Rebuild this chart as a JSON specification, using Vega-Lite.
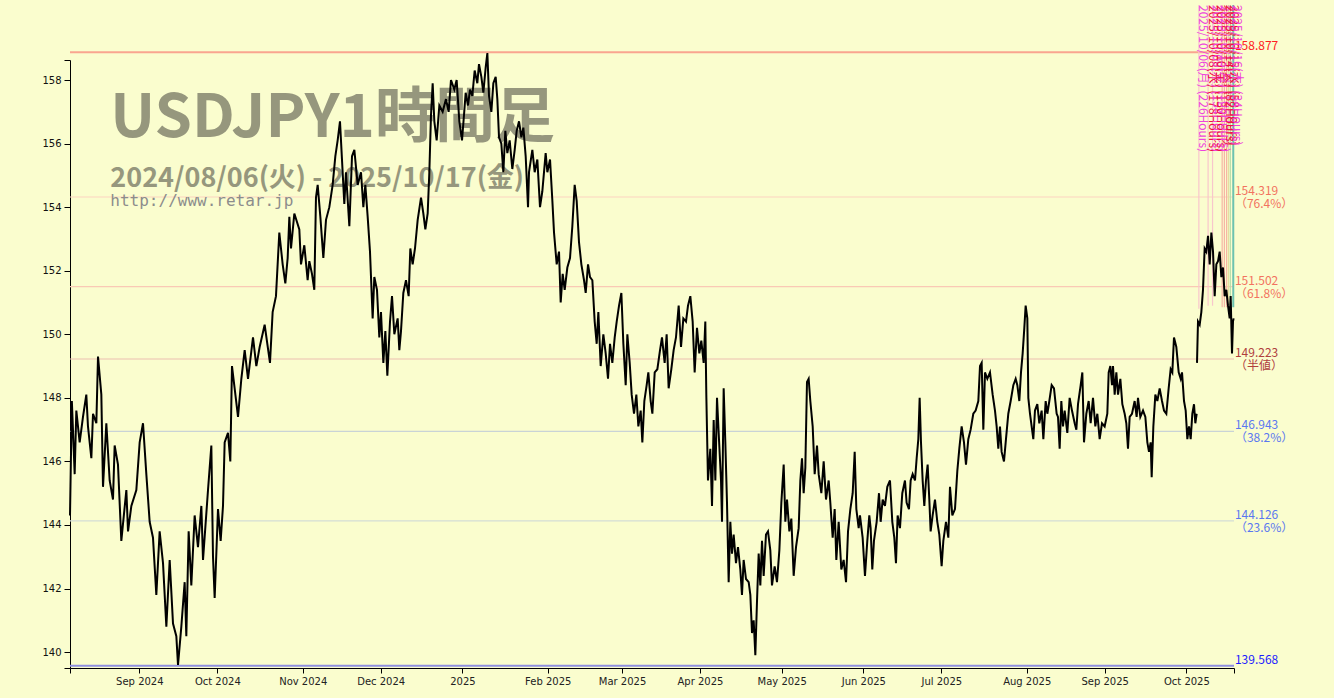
{
"$schema":"https://vega.github.io/schema/vega-lite/v6.json",
"width":1164,"height":608,"autosize":"none",
"padding":{"left":70,"top":60,"right":100,"bottom":30},
"background":"#FAFDCE",
"config":{"view":{"stroke":null},
"axis":{"labelFont":"DejaVu Sans","labelFontSize":10,"labelColor":"#111","domainColor":"#000","tickColor":"#000","grid":false,"title":null,"labelOverlap":false,"labelFlush":false}},
"datasets":{
"price":[
{"t":0,"p":144.3,"s":1},{"t":0.5,"p":147.9,"s":1},{"t":1.26,"p":145.6,"s":1},{"t":1.71,"p":147.6,"s":1},{"t":2.61,"p":146.6,"s":1},{"t":3.51,"p":147.4,"s":1},{"t":4.41,"p":148.1,"s":1},{"t":4.86,"p":147.1,"s":1},{"t":5.77,"p":146.1,"s":1},{"t":6.22,"p":147.5,"s":1},{"t":7.12,"p":147.2,"s":1},{"t":7.57,"p":149.3,"s":1},{"t":8.47,"p":148.1,"s":1},{"t":8.92,"p":145.2,"s":1},{"t":9.82,"p":147.2,"s":1},{"t":10.72,"p":145.4,"s":1},{"t":11.62,"p":144.8,"s":1},{"t":12.07,"p":146.5,"s":1},{"t":12.97,"p":145.9,"s":1},{"t":13.87,"p":143.5,"s":1},{"t":15.23,"p":145.1,"s":1},{"t":15.68,"p":143.8,"s":1},{"t":16.58,"p":144.6,"s":1},{"t":17.93,"p":145.1,"s":1},{"t":18.83,"p":146.6,"s":1},{"t":19.73,"p":147.2,"s":1},{"t":20.63,"p":145.6,"s":1},{"t":21.53,"p":144.1,"s":1},{"t":22.43,"p":143.6,"s":1},{"t":23.33,"p":141.8,"s":1},{"t":24.23,"p":143.8,"s":1},{"t":25.14,"p":142.8,"s":1},{"t":26.04,"p":140.8,"s":1},{"t":26.94,"p":142.9,"s":1},{"t":27.84,"p":140.9,"s":1},{"t":28.74,"p":140.5,"s":1},{"t":29.19,"p":139.6,"s":1},{"t":30.09,"p":140.8,"s":1},{"t":30.99,"p":142.2,"s":1},{"t":31.44,"p":140.5,"s":1},{"t":32.07,"p":143.8,"s":1},{"t":32.79,"p":142.1,"s":1},{"t":33.69,"p":144.3,"s":1},{"t":34.59,"p":143.3,"s":1},{"t":35.5,"p":144.6,"s":1},{"t":35.95,"p":142.9,"s":1},{"t":37.3,"p":145.1,"s":1},{"t":38.2,"p":146.5,"s":1},{"t":38.65,"p":143.0,"s":1},{"t":39.1,"p":141.7,"s":1},{"t":40.0,"p":144.5,"s":1},{"t":40.72,"p":143.5,"s":1},{"t":41.35,"p":144.6,"s":1},{"t":41.8,"p":146.6,"s":1},{"t":42.7,"p":146.9,"s":1},{"t":43.33,"p":146.0,"s":1},{"t":43.78,"p":149.0,"s":1},{"t":44.5,"p":148.3,"s":1},{"t":45.41,"p":147.4,"s":1},{"t":46.31,"p":148.6,"s":1},{"t":47.21,"p":149.5,"s":1},{"t":48.11,"p":148.6,"s":1},{"t":49.46,"p":149.9,"s":1},{"t":50.36,"p":149.0,"s":1},{"t":51.26,"p":149.6,"s":1},{"t":52.61,"p":150.3,"s":1},
{"t":54.05,"p":149.1,"s":1},{"t":54.77,"p":150.7,"s":1},{"t":55.67,"p":151.2,"s":1},{"t":56.57,"p":153.2,"s":1},{"t":57.48,"p":152.2,"s":1},{"t":58.2,"p":151.6,"s":1},{"t":58.83,"p":152.4,"s":1},{"t":59.28,"p":153.7,"s":1},{"t":59.73,"p":152.7,"s":1},{"t":60.63,"p":153.8,"s":1},{"t":61.98,"p":153.3,"s":1},{"t":62.43,"p":152.2,"s":1},{"t":63.33,"p":152.8,"s":1},{"t":64.23,"p":151.7,"s":1},{"t":64.68,"p":152.3,"s":1},{"t":65.4,"p":151.9,"s":1},{"t":66.03,"p":151.4,"s":1},{"t":66.48,"p":154.3,"s":1},{"t":66.94,"p":154.7,"s":1},{"t":67.66,"p":153.7,"s":1},{"t":68.47,"p":152.4,"s":1},{"t":69.19,"p":153.6,"s":1},{"t":70.09,"p":154.0,"s":1},{"t":70.99,"p":154.7,"s":1},{"t":71.71,"p":155.6,"s":1},{"t":72.34,"p":156.1,"s":1},{"t":72.97,"p":156.7,"s":1},{"t":73.51,"p":155.5,"s":1},{"t":74.14,"p":154.1,"s":1},{"t":74.59,"p":155.1,"s":1},{"t":75.5,"p":153.4,"s":1},{"t":76.22,"p":155.6,"s":1},{"t":76.85,"p":155.8,"s":1},{"t":77.75,"p":154.7,"s":1},{"t":78.65,"p":155.1,"s":1},{"t":79.28,"p":154.0,"s":1},{"t":79.82,"p":154.7,"s":1},{"t":80.45,"p":153.7,"s":1},{"t":81.08,"p":152.6,"s":1},{"t":81.8,"p":150.5,"s":1},{"t":82.25,"p":151.8,"s":1},{"t":82.97,"p":151.4,"s":1},{"t":83.6,"p":149.9,"s":1},{"t":84.05,"p":150.7,"s":1},{"t":84.69,"p":149.1,"s":1},{"t":85.23,"p":150.1,"s":1},{"t":85.77,"p":148.7,"s":1},{"t":86.49,"p":150.4,"s":1},{"t":87.03,"p":151.2,"s":1},{"t":87.66,"p":150.0,"s":1},{"t":88.56,"p":150.5,"s":1},{"t":89.01,"p":149.5,"s":1},{"t":89.46,"p":150.1,"s":1},{"t":90.09,"p":151.3,"s":1},{"t":90.81,"p":151.7,"s":1},{"t":91.53,"p":151.2,"s":1},{"t":91.98,"p":152.7,"s":1},{"t":92.61,"p":152.2,"s":1},{"t":93.24,"p":152.7,"s":1},{"t":93.97,"p":153.6,"s":1},{"t":94.87,"p":154.3,"s":1},{"t":95.5,"p":153.8,"s":1},{"t":96.04,"p":153.3,"s":1},{"t":96.67,"p":153.8,"s":1},{"t":97.12,"p":155.1,"s":1},{"t":97.57,"p":156.9,"s":1},{"t":98.02,"p":157.9,"s":1},{"t":98.47,"p":156.7,"s":1},{"t":99.1,"p":156.1,"s":1},{"t":99.82,"p":157.2,"s":1},{"t":100.72,"p":157.0,"s":1},{"t":101.62,"p":157.4,"s":1},{"t":102.34,"p":157.0,"s":1},{"t":102.97,"p":158.0,"s":1},{"t":103.87,"p":157.7,"s":1},{"t":104.5,"p":158.0,"s":1},{"t":105.23,"p":156.7,"s":1},{"t":105.95,"p":156.1,"s":1},
{"t":106.49,"p":156.9,"s":1},{"t":106.94,"p":157.6,"s":1},{"t":107.57,"p":157.2,"s":1},{"t":108.11,"p":157.7,"s":1},{"t":108.74,"p":157.5,"s":1},{"t":109.37,"p":158.3,"s":1},{"t":110.09,"p":157.9,"s":1},{"t":110.54,"p":158.5,"s":1},{"t":111.18,"p":158.1,"s":1},{"t":111.72,"p":157.6,"s":1},{"t":112.35,"p":158.4,"s":1},{"t":112.8,"p":158.85,"s":1},{"t":113.25,"p":157.5,"s":1},{"t":113.88,"p":157.0,"s":1},{"t":114.42,"p":157.9,"s":1},{"t":115.05,"p":158.1,"s":1},{"t":115.5,"p":157.4,"s":1},{"t":115.95,"p":156.2,"s":1},{"t":116.58,"p":156.0,"s":1},{"t":117.12,"p":155.1,"s":1},{"t":117.66,"p":156.4,"s":1},{"t":118.2,"p":155.7,"s":1},{"t":118.83,"p":156.1,"s":1},{"t":119.55,"p":155.2,"s":1},{"t":120.19,"p":155.8,"s":1},{"t":120.73,"p":156.4,"s":1},{"t":121.36,"p":156.7,"s":1},{"t":121.99,"p":156.2,"s":1},{"t":122.53,"p":156.5,"s":1},{"t":123.16,"p":155.6,"s":1},{"t":123.79,"p":154.0,"s":1},{"t":124.06,"p":155.1,"s":1},{"t":124.96,"p":155.8,"s":1},{"t":125.59,"p":155.1,"s":1},{"t":126.31,"p":155.5,"s":1},{"t":127.03,"p":154.0,"s":1},{"t":127.66,"p":154.5,"s":1},{"t":128.56,"p":155.7,"s":1},{"t":129.02,"p":155.1,"s":1},{"t":129.74,"p":155.5,"s":1},{"t":130.37,"p":154.2,"s":1},{"t":130.82,"p":153.2,"s":1},{"t":131.54,"p":152.2,"s":1},{"t":132.17,"p":152.6,"s":1},{"t":132.62,"p":151.0,"s":1},{"t":133.16,"p":151.9,"s":1},{"t":133.7,"p":151.4,"s":1},{"t":134.42,"p":152.1,"s":1},{"t":135.14,"p":152.4,"s":1},{"t":135.77,"p":153.4,"s":1},{"t":136.4,"p":154.7,"s":1},{"t":136.94,"p":154.2,"s":1},{"t":137.57,"p":152.9,"s":1},{"t":138.21,"p":152.2,"s":1},{"t":138.93,"p":151.7,"s":1},{"t":139.38,"p":151.3,"s":1},{"t":140.01,"p":152.2,"s":1},{"t":140.55,"p":151.8,"s":1},{"t":141.18,"p":151.7,"s":1},{"t":141.81,"p":150.4,"s":1},{"t":142.35,"p":149.7,"s":1},{"t":142.8,"p":150.7,"s":1},{"t":143.43,"p":149.0,"s":1},{"t":144.15,"p":150.0,"s":1},{"t":144.78,"p":149.4,"s":1},{"t":145.41,"p":148.6,"s":1},{"t":145.95,"p":149.7,"s":1},{"t":146.58,"p":149.1,"s":1},{"t":147.22,"p":149.9,"s":1},{"t":147.76,"p":150.4,"s":1},{"t":148.39,"p":150.9,"s":1},{"t":149.02,"p":151.3,"s":1},{"t":149.56,"p":149.7,"s":1},{"t":150.19,"p":148.4,"s":1},{"t":150.64,"p":150.0,"s":1},{"t":151.27,"p":149.1,"s":1},{"t":151.81,"p":148.1,"s":1},{"t":152.44,"p":147.5,"s":1},{"t":153.07,"p":148.1,"s":1},{"t":153.61,"p":147.1,"s":1},{"t":154.24,"p":147.6,"s":1},{"t":154.69,"p":146.6,"s":1},{"t":155.23,"p":147.9,"s":1},{"t":155.86,"p":148.4,"s":1},{"t":156.31,"p":148.8,"s":1},{"t":156.94,"p":147.9,"s":1},{"t":157.4,"p":147.5,"s":1},{"t":158.03,"p":148.8,"s":1},{"t":158.75,"p":148.9,"s":1},{"t":159.47,"p":149.5,"s":1},
{"t":160.0,"p":149.9,"s":1},{"t":160.72,"p":149.1,"s":1},{"t":161.26,"p":150.0,"s":1},{"t":161.8,"p":148.3,"s":1},{"t":162.52,"p":148.9,"s":1},{"t":163.15,"p":149.5,"s":1},{"t":163.78,"p":149.9,"s":1},{"t":164.51,"p":150.9,"s":1},{"t":165.14,"p":149.6,"s":1},{"t":165.77,"p":150.5,"s":1},{"t":166.49,"p":150.4,"s":1},{"t":167.03,"p":150.9,"s":1},{"t":167.66,"p":151.2,"s":1},{"t":168.29,"p":150.4,"s":1},{"t":168.83,"p":148.8,"s":1},{"t":169.46,"p":150.2,"s":1},{"t":170.09,"p":149.4,"s":1},{"t":170.63,"p":149.8,"s":1},{"t":171.26,"p":149.1,"s":1},{"t":171.71,"p":150.4,"s":1},{"t":171.98,"p":148.1,"s":1},{"t":172.43,"p":145.4,"s":1},{"t":173.06,"p":146.4,"s":1},{"t":173.52,"p":144.6,"s":1},{"t":173.97,"p":147.3,"s":1},{"t":174.42,"p":145.4,"s":1},{"t":174.87,"p":148.0,"s":1},{"t":175.32,"p":146.9,"s":1},{"t":175.95,"p":145.4,"s":1},{"t":176.22,"p":144.1,"s":1},{"t":176.67,"p":148.3,"s":1},{"t":177.12,"p":146.6,"s":1},{"t":177.57,"p":144.7,"s":1},{"t":178.02,"p":142.2,"s":1},{"t":178.47,"p":144.1,"s":1},{"t":178.92,"p":143.1,"s":1},{"t":179.37,"p":143.7,"s":1},{"t":180.0,"p":142.8,"s":1},{"t":180.54,"p":143.3,"s":1},{"t":181.17,"p":142.6,"s":1},{"t":181.62,"p":141.8,"s":1},{"t":182.07,"p":142.9,"s":1},{"t":182.71,"p":142.3,"s":1},{"t":183.43,"p":142.2,"s":1},{"t":183.88,"p":141.8,"s":1},{"t":184.33,"p":140.6,"s":1},{"t":184.78,"p":141.0,"s":1},{"t":185.23,"p":139.9,"s":1},{"t":185.68,"p":141.6,"s":1},{"t":186.13,"p":143.1,"s":1},{"t":186.58,"p":142.1,"s":1},{"t":187.03,"p":143.5,"s":1},{"t":187.48,"p":142.4,"s":1},{"t":188.11,"p":143.7,"s":1},{"t":188.65,"p":143.8,"s":1},{"t":189.28,"p":143.2,"s":1},{"t":189.73,"p":142.1,"s":1},{"t":190.45,"p":142.7,"s":1},{"t":191.08,"p":142.2,"s":1},{"t":191.72,"p":143.2,"s":1},{"t":192.26,"p":144.7,"s":1},{"t":192.89,"p":145.9,"s":1},{"t":193.34,"p":144.1,"s":1},{"t":193.79,"p":144.8,"s":1},{"t":194.42,"p":143.8,"s":1},{"t":194.96,"p":144.2,"s":1},{"t":195.59,"p":142.4,"s":1},{"t":196.22,"p":143.3,"s":1},{"t":196.94,"p":143.9,"s":1},{"t":197.39,"p":145.4,"s":1},{"t":197.84,"p":146.1,"s":1},{"t":198.29,"p":145.0,"s":1},{"t":198.74,"p":145.8,"s":1},{"t":199.19,"p":148.5,"s":1},{"t":199.64,"p":148.6,"s":1},{"t":200.09,"p":147.9,"s":1},{"t":200.73,"p":147.1,"s":1},{"t":201.27,"p":145.6,"s":1},{"t":201.9,"p":146.5,"s":1},{"t":202.35,"p":145.6,"s":1},{"t":203.07,"p":145.0,"s":1},{"t":203.7,"p":146.0,"s":1},{"t":204.33,"p":144.8,"s":1},{"t":205.05,"p":145.4,"s":1},{"t":205.5,"p":144.7,"s":1},{"t":206.13,"p":143.6,"s":1},{"t":206.67,"p":144.5,"s":1},{"t":207.12,"p":142.9,"s":1},{"t":207.75,"p":144.1,"s":1},{"t":208.47,"p":142.6,"s":1},{"t":209.1,"p":142.9,"s":1},{"t":209.74,"p":142.2,"s":1},{"t":210.28,"p":143.8,"s":1},{"t":210.91,"p":144.5,"s":1},{"t":211.54,"p":145.0,"s":1},{"t":212.08,"p":146.3,"s":1},{"t":212.53,"p":144.5,"s":1},{"t":213.16,"p":143.9,"s":1},
{"t":213.51,"p":144.3,"s":1},{"t":214.23,"p":143.6,"s":1},{"t":214.86,"p":142.4,"s":1},{"t":215.49,"p":143.5,"s":1},{"t":216.03,"p":144.3,"s":1},{"t":216.39,"p":143.9,"s":1},{"t":216.84,"p":142.6,"s":1},{"t":217.29,"p":143.5,"s":1},{"t":218.02,"p":144.1,"s":1},{"t":218.65,"p":145.0,"s":1},{"t":219.1,"p":144.1,"s":1},{"t":219.64,"p":144.8,"s":1},{"t":220.27,"p":144.6,"s":1},{"t":220.9,"p":145.2,"s":1},{"t":221.62,"p":145.4,"s":1},{"t":222.25,"p":144.1,"s":1},{"t":222.79,"p":143.6,"s":1},{"t":223.24,"p":142.8,"s":1},{"t":223.69,"p":144.3,"s":1},{"t":224.32,"p":143.9,"s":1},{"t":224.95,"p":145.0,"s":1},{"t":225.67,"p":145.4,"s":1},{"t":226.12,"p":144.7,"s":1},{"t":226.75,"p":144.5,"s":1},{"t":227.21,"p":145.4,"s":1},{"t":227.75,"p":145.6,"s":1},{"t":228.38,"p":145.4,"s":1},{"t":228.83,"p":146.1,"s":1},{"t":229.28,"p":146.7,"s":1},{"t":229.64,"p":148.0,"s":1},{"t":230.0,"p":146.6,"s":1},{"t":230.45,"p":145.4,"s":1},{"t":230.9,"p":144.6,"s":1},{"t":231.35,"p":145.4,"s":1},{"t":231.8,"p":145.9,"s":1},{"t":232.25,"p":144.8,"s":1},{"t":232.61,"p":143.8,"s":1},{"t":233.15,"p":144.3,"s":1},{"t":233.78,"p":144.8,"s":1},{"t":234.41,"p":144.1,"s":1},{"t":234.95,"p":143.7,"s":1},{"t":235.58,"p":142.7,"s":1},{"t":236.04,"p":143.5,"s":1},{"t":236.76,"p":144.1,"s":1},{"t":237.39,"p":143.6,"s":1},{"t":237.84,"p":145.2,"s":1},{"t":238.47,"p":144.3,"s":1},{"t":239.19,"p":144.5,"s":1},{"t":239.82,"p":145.7,"s":1},{"t":240.36,"p":146.4,"s":1},{"t":240.99,"p":147.1,"s":1},{"t":241.62,"p":146.6,"s":1},{"t":242.16,"p":145.9,"s":1},{"t":242.79,"p":146.7,"s":1},{"t":243.42,"p":147.0,"s":1},{"t":244.14,"p":147.5,"s":1},{"t":244.77,"p":147.6,"s":1},{"t":245.5,"p":147.9,"s":1},{"t":245.95,"p":149.0,"s":1},{"t":246.4,"p":149.1,"s":1},{"t":246.85,"p":147.0,"s":1},{"t":247.3,"p":148.8,"s":1},{"t":247.93,"p":148.6,"s":1},{"t":248.65,"p":148.8,"s":1},{"t":249.37,"p":148.1,"s":1},{"t":250.0,"p":147.6,"s":1},{"t":250.45,"p":147.1,"s":1},{"t":250.9,"p":146.4,"s":1},{"t":251.35,"p":147.1,"s":1},{"t":251.8,"p":146.3,"s":1},{"t":252.43,"p":146.0,"s":1},{"t":252.97,"p":146.7,"s":1},{"t":253.6,"p":147.5,"s":1},{"t":254.24,"p":147.9,"s":1},{"t":254.96,"p":148.4,"s":1},{"t":255.59,"p":148.6,"s":1},{"t":256.04,"p":148.4,"s":1},{"t":256.58,"p":147.9,"s":1},{"t":257.03,"p":148.8,"s":1},{"t":257.48,"p":149.4,"s":1},{"t":257.93,"p":150.2,"s":1},{"t":258.29,"p":150.9,"s":1},{"t":258.74,"p":150.5,"s":1},{"t":259.01,"p":148.0,"s":1},{"t":259.46,"p":147.5,"s":1},{"t":259.91,"p":147.1,"s":1},{"t":260.36,"p":146.7,"s":1},{"t":260.81,"p":147.6,"s":1},{"t":261.44,"p":147.8,"s":1},{"t":261.98,"p":147.2,"s":1},{"t":262.61,"p":147.6,"s":1},{"t":263.07,"p":146.7,"s":1},{"t":263.7,"p":147.9,"s":1},{"t":264.15,"p":147.5,"s":1},{"t":264.69,"p":147.9,"s":1},{"t":265.32,"p":148.4,"s":1},{"t":265.95,"p":148.3,"s":1},{"t":266.67,"p":147.5,"s":1},
{"t":267.03,"p":147.4,"s":1},{"t":267.48,"p":146.4,"s":1},{"t":267.93,"p":147.9,"s":1},{"t":268.38,"p":147.1,"s":1},{"t":268.83,"p":147.6,"s":1},{"t":269.55,"p":146.9,"s":1},{"t":270.18,"p":148.0,"s":1},{"t":270.81,"p":147.6,"s":1},{"t":271.54,"p":147.2,"s":1},{"t":271.99,"p":147.0,"s":1},{"t":272.44,"p":147.8,"s":1},{"t":273.16,"p":148.4,"s":1},{"t":273.61,"p":148.8,"s":1},{"t":274.06,"p":146.6,"s":1},{"t":274.69,"p":147.5,"s":1},{"t":275.32,"p":147.9,"s":1},{"t":275.86,"p":147.2,"s":1},{"t":276.49,"p":148.0,"s":1},{"t":277.12,"p":147.1,"s":1},{"t":277.66,"p":147.5,"s":1},{"t":278.29,"p":146.7,"s":1},{"t":278.92,"p":147.2,"s":1},{"t":279.64,"p":147.1,"s":1},{"t":280.36,"p":147.5,"s":1},{"t":280.73,"p":148.8,"s":1},{"t":281.18,"p":149.0,"s":1},{"t":281.63,"p":148.4,"s":1},{"t":281.9,"p":149.0,"s":1},{"t":282.35,"p":148.1,"s":1},{"t":282.8,"p":148.8,"s":1},{"t":283.25,"p":148.1,"s":1},{"t":283.88,"p":148.6,"s":1},{"t":284.42,"p":147.8,"s":1},{"t":285.05,"p":147.5,"s":1},{"t":285.5,"p":147.2,"s":1},{"t":285.95,"p":146.4,"s":1},{"t":286.4,"p":147.4,"s":1},{"t":287.03,"p":147.5,"s":1},{"t":287.75,"p":147.9,"s":1},{"t":288.29,"p":147.4,"s":1},{"t":288.65,"p":148.0,"s":1},{"t":289.28,"p":147.4,"s":1},{"t":290.01,"p":147.6,"s":1},{"t":290.64,"p":147.4,"s":1},{"t":291.18,"p":146.6,"s":1},{"t":291.63,"p":146.3,"s":1},{"t":292.08,"p":146.6,"s":1},{"t":292.35,"p":145.5,"s":1},{"t":292.8,"p":147.1,"s":1},{"t":293.34,"p":148.1,"s":1},{"t":293.88,"p":147.9,"s":1},{"t":294.51,"p":148.3,"s":1},{"t":295.14,"p":147.9,"s":1},{"t":295.68,"p":147.6,"s":1},{"t":296.31,"p":147.5,"s":1},{"t":296.94,"p":148.3,"s":1},{"t":297.48,"p":148.9,"s":1},{"t":297.93,"p":148.8,"s":1},{"t":298.38,"p":149.9,"s":1},{"t":299.01,"p":149.6,"s":1},{"t":299.65,"p":148.8,"s":1},{"t":300.19,"p":148.6,"s":1},{"t":300.55,"p":148.8,"s":1},{"t":301.09,"p":147.9,"s":1},{"t":301.54,"p":147.6,"s":1},{"t":301.99,"p":146.7,"s":1},{"t":302.44,"p":147.1,"s":1},{"t":302.89,"p":146.7,"s":1},{"t":303.34,"p":147.5,"s":1},{"t":303.79,"p":147.8,"s":1},{"t":304.15,"p":147.2,"s":1},{"t":304.51,"p":147.5,"s":1},
{"t":304.6,"p":149.1,"s":2},{"t":304.87,"p":150.4,"s":2},{"t":305.32,"p":150.3,"s":2},{"t":305.77,"p":150.7,"s":2},{"t":306.22,"p":151.4,"s":2},{"t":306.67,"p":152.7,"s":2},{"t":307.12,"p":152.6,"s":2},{"t":307.58,"p":153.1,"s":2},{"t":308.03,"p":152.2,"s":2},{"t":308.48,"p":153.2,"s":2},{"t":308.93,"p":152.6,"s":2},{"t":309.38,"p":151.2,"s":2},{"t":309.83,"p":152.2,"s":2},{"t":310.28,"p":152.3,"s":2},{"t":310.73,"p":152.6,"s":2},{"t":311.18,"p":151.8,"s":2},{"t":311.63,"p":152.1,"s":2},{"t":312.08,"p":151.2,"s":2},{"t":312.53,"p":151.4,"s":2},{"t":312.98,"p":150.9,"s":2},{"t":313.43,"p":150.5,"s":2},{"t":313.7,"p":151.2,"s":2},{"t":314.06,"p":149.4,"s":2},{"t":314.33,"p":150.4,"s":2},{"t":314.5,"p":150.5,"s":2}
],
"levels":[
{"v":158.877,"n":"L0","val":"158.877","pct":""},
{"v":154.319,"n":"L1","val":"154.319","pct":"（76.4%）"},
{"v":151.502,"n":"L2","val":"151.502","pct":"（61.8%）"},
{"v":149.223,"n":"L3","val":"149.223","pct":"（半値）"},
{"v":146.943,"n":"L4","val":"146.943","pct":"（38.2%）"},
{"v":144.126,"n":"L5","val":"144.126","pct":"（23.6%）"},
{"v":139.568,"n":"L6","val":"139.568","pct":""}
],
"vl":[
{"t":305.1,"k":"a","lo":150.8},{"t":307.6,"k":"a","lo":150.9},{"t":308.8,"k":"a","lo":150.9},{"t":311.4,"k":"b","lo":150.85},{"t":312.0,"k":"b","lo":150.85},{"t":312.6,"k":"b","lo":150.85},{"t":313.1,"k":"c","lo":150.85},{"t":313.6,"k":"d","lo":150.85},{"t":314.4,"k":"e","lo":150.85}
],
"vt":[
{"t":306.3,"txt":"2025/10/06(月) (226Hours)","k":"m"},
{"t":309.0,"txt":"2025/10/08(水) (178Hours)","k":"r"},
{"t":310.1,"txt":"2025/10/09(木) (154Hours)","k":"m"},
{"t":311.2,"txt":"2025/10/10(金) (130Hours)","k":"r"},
{"t":312.3,"txt":"2025/10/13(月) (106Hours)","k":"m"},
{"t":313.4,"txt":"2025/10/14(火) (82Hours)","k":"r"},
{"t":314.5,"txt":"2025/10/15(水) (58Hours)","k":"r"},
{"t":315.3,"txt":"2025/10/16(木) (34Hours)","k":"m"}
]
},
"layer":[
{"data":{"name":"levels"},"mark":{"type":"rule"},
 "encoding":{
  "y":{"field":"v","type":"quantitative","scale":{"domain":[139.5,158.63],"nice":false,"zero":false}},
  "color":{"field":"n","type":"nominal","legend":null,"scale":{"domain":["L0","L1","L2","L3","L4","L5","L6"],"range":["#f9a58f","#fbd3bf","#f9c9b5","#ecc0b0","#c9d3d6","#d3ddd6","#8f8fe0"]}},
  "strokeWidth":{"condition":{"test":"datum.n == 'L0' || datum.n == 'L6'","value":2},"value":1.2}}},
{"data":{"name":"vl"},"mark":{"type":"rule"},
 "encoding":{
  "x":{"field":"t","type":"quantitative","scale":{"domain":[0,314.6],"nice":false,"zero":false}},
  "y":{"field":"lo","type":"quantitative","scale":{"domain":[139.5,158.63],"nice":false,"zero":false}},
  "y2":{"datum":160.36},
  "color":{"field":"k","type":"nominal","legend":null,"scale":{"domain":["a","b","c","d","e"],"range":["#f8c6cc","#f6b4a4","#e6dda0","#b4dcaa","#6cc2b0"]}},
  "strokeWidth":{"condition":{"test":"datum.k == 'e'","value":2},"value":1.2}}},
{"data":{"values":[{"t":10.9,"p":156.21,"txt":"USDJPY1時間足"}]},
 "mark":{"type":"text","align":"left","baseline":"alphabetic","font":"Noto Sans CJK JP","fontWeight":"bold","fontSize":60,"color":"#96977d"},
 "encoding":{"x":{"field":"t","type":"quantitative","scale":{"domain":[0,314.6],"nice":false,"zero":false}},"y":{"field":"p","type":"quantitative","scale":{"domain":[139.5,158.63],"nice":false,"zero":false}},"text":{"field":"txt"}}},
{"data":{"values":[{"t":10.9,"p":154.64,"txt":"2024/08/06(火) - 2025/10/17(金)"}]},
 "mark":{"type":"text","align":"left","baseline":"alphabetic","font":"Noto Sans CJK JP","fontWeight":"bold","fontSize":27,"color":"#96977d"},
 "encoding":{"x":{"field":"t","type":"quantitative","scale":{"domain":[0,314.6],"nice":false,"zero":false}},"y":{"field":"p","type":"quantitative","scale":{"domain":[139.5,158.63],"nice":false,"zero":false}},"text":{"field":"txt"}}},
{"data":{"values":[{"t":10.9,"p":154.04,"txt":"http://www.retar.jp"}]},
 "mark":{"type":"text","align":"left","baseline":"alphabetic","font":"DejaVu Sans Mono","fontSize":16,"color":"#8c8c8c"},
 "encoding":{"x":{"field":"t","type":"quantitative","scale":{"domain":[0,314.6],"nice":false,"zero":false}},"y":{"field":"p","type":"quantitative","scale":{"domain":[139.5,158.63],"nice":false,"zero":false}},"text":{"field":"txt"}}},
{"data":{"name":"price"},"mark":{"type":"line","color":"#000","strokeWidth":2,"strokeJoin":"miter"},
 "encoding":{
  "x":{"field":"t","type":"quantitative","scale":{"domain":[0,314.6],"nice":false,"zero":false},
   "axis":{"title":null,"values":[0,18.74,39.82,62.9,83.97,106.05,129.13,149.2,170.27,192.35,214.42,235.5,258.58,279.65,301.73,314.6],
    "labelExpr":"['','Sep 2024','Oct 2024','Nov 2024','Dec 2024','2025','Feb 2025','Mar 2025','Apr 2025','May 2025','Jun 2025','Jul 2025','Aug 2025','Sep 2025','Oct 2025',''][indexof([0,18.74,39.82,62.9,83.97,106.05,129.13,149.2,170.27,192.35,214.42,235.5,258.58,279.65,301.73,314.6], datum.value)]",
    "tickSize":5,"labelPadding":3,"labelColor":"#222","grid":false}},
  "y":{"field":"p","type":"quantitative","scale":{"domain":[139.5,158.63],"nice":false,"zero":false},
   "axis":{"title":null,"values":[139.5,140,142,144,146,148,150,152,154,156,158,158.63],"format":".0f",
    "labelExpr":"datum.value < 139.9 || datum.value > 158.5 ? '' : datum.label","tickSize":6,"labelPadding":3,"grid":false}},
  "detail":{"field":"s","type":"nominal"}}},
{"data":{"name":"levels"},"mark":{"type":"text","align":"left","baseline":"alphabetic","dy":-2,"font":"Noto Sans CJK JP","fontSize":12},
 "encoding":{
  "x":{"datum":314.86,"type":"quantitative","scale":{"domain":[0,314.6],"nice":false,"zero":false}},
  "y":{"field":"v","type":"quantitative","scale":{"domain":[139.5,158.63],"nice":false,"zero":false}},
  "text":{"field":"val"},
  "color":{"field":"n","type":"nominal","legend":null,"scale":{"domain":["L0","L1","L2","L3","L4","L5","L6"],"range":["#ff2020","#f2735f","#f2735f","#b0403e","#5a78f0","#5a78f0","#1c1cff"]}}}},
{"data":{"name":"levels"},"transform":[{"filter":"datum.pct != ''"}],
 "mark":{"type":"text","align":"left","baseline":"top","dy":2,"font":"Noto Sans CJK JP","fontSize":12},
 "encoding":{
  "x":{"datum":314.86,"type":"quantitative","scale":{"domain":[0,314.6],"nice":false,"zero":false}},
  "y":{"field":"v","type":"quantitative","scale":{"domain":[139.5,158.63],"nice":false,"zero":false}},
  "text":{"field":"pct"},
  "color":{"field":"n","type":"nominal","legend":null,"scale":{"domain":["L0","L1","L2","L3","L4","L5","L6"],"range":["#ff2020","#f2735f","#f2735f","#b0403e","#5a78f0","#5a78f0","#1c1cff"]}}}},
{"data":{"name":"vt"},
 "mark":{"type":"text","align":"left","baseline":"middle","angle":90,"font":"Noto Sans CJK JP","fontSize":12},
 "encoding":{
  "x":{"field":"t","type":"quantitative","scale":{"domain":[0,314.6],"nice":false,"zero":false}},
  "y":{"datum":160.36,"type":"quantitative","scale":{"domain":[139.5,158.63],"nice":false,"zero":false}},
  "text":{"field":"txt"},
  "color":{"field":"k","type":"nominal","legend":null,"scale":{"domain":["m","r"],"range":["#ee44dd","#ee1144"]}}}}
],
"resolve":{"scale":{"color":"independent"}}
}
